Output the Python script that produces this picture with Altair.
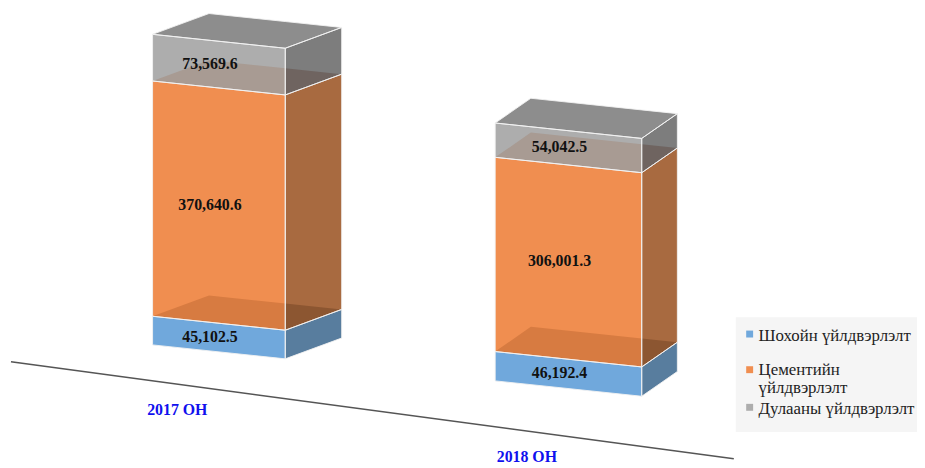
import altair as alt
import pandas as pd

# ---------------- data ----------------
categories = ["2017 ОН", "2018 ОН"]
series_names = ["Шохойн үйлдвэрлэлт", "Цементийн үйлдвэрлэлт", "Дулааны үйлдвэрлэлт"]
lime_values = [45102.5, 46192.4]
cement_values = [370640.6, 306001.3]
heat_values = [73569.6, 54042.5]

# ---------------- layout / style constants ----------------
PAGE = 8
W, H = 917, 452
K = 1560.0            # value units per pixel
SHEAR = 0.105         # perspective tilt of horizontal edges
BASE_PY0, BASE_X0 = 353, 220
bar_left = [153, 499]
bar_right = [287, 647]
bar_depth = [(57, -21), (36, -25)]
front_colors = ["#70a8dc", "#f08e50", "#adadad"]
side_colors = ["#587d9e", "#a86a40", "#7d7d7d"]
floor_front_colors = [None, "#d77b41", "#a89b93"]
floor_side_colors = [None, "#8c5631", "#6f6460"]
top_color = "#8d8d8d"
SERIF = "Liberation Serif"


def X(px):
    return px - PAGE


def Y(py):
    return (PAGE + H - py) * K


def lvl(px, v):
    return Y(BASE_PY0 + SHEAR * (px - BASE_X0)) + v


rows = {"front": [], "side": [], "floorF": [], "floorS": [], "top": []}


def add(kind, fid, color, pts):
    for (px, y, y2) in pts:
        rows[kind].append({"face": f"{kind}-{fid}", "color": color, "x": X(px), "y": y, "y2": y2})


labels = []
series_values = [lime_values, cement_values, heat_values]
for i in range(len(categories)):
    vals = [s[i] for s in series_values]
    cum = [0]
    for v in vals:
        cum.append(cum[-1] + v)
    xL, xR = bar_left[i], bar_right[i]
    ddx, ddy = bar_depth[i]
    D = -ddy * K
    xc = (xL + xR) / 2
    for j in range(3):
        lo, hi = cum[j], cum[j + 1]
        fid = f"{i}-{j}"
        add("front", fid, front_colors[j],
            [(xL, lvl(xL, lo), lvl(xL, hi)), (xR, lvl(xR, lo), lvl(xR, hi))])
        add("side", fid, side_colors[j],
            [(xR, lvl(xR, lo), lvl(xR, hi)), (xR + ddx, lvl(xR, lo) + D, lvl(xR, hi) + D)])
        if j > 0:
            add("floorF", fid, floor_front_colors[j],
                [(xL, lvl(xL, lo), lvl(xL, lo)),
                 (xL + ddx, lvl(xL + ddx, lo), lvl(xL, lo) + D),
                 (xR, lvl(xR, lo), lvl(xR - ddx, lo) + D)])
            add("floorS", fid, floor_side_colors[j],
                [(xR, lvl(xR, lo), lvl(xR - ddx, lo) + D),
                 (xR + ddx, lvl(xR, lo) + D, lvl(xR, lo) + D)])
        if j == 2:
            add("top", fid, top_color,
                [(xL, lvl(xL, hi), lvl(xL, hi)),
                 (xL + ddx, lvl(xL + ddx, hi), lvl(xL, hi) + D),
                 (xR, lvl(xR, hi), lvl(xR - ddx, hi) + D),
                 (xR + ddx, lvl(xR, hi) + D, lvl(xR, hi) + D)])
        lx = xc - 9
        labels.append({"x": X(lx), "y": lvl(lx, (lo + hi) / 2), "text": f"{vals[j]:,.1f}"})

xs = alt.Scale(domain=[0, W], nice=False, zero=False)
ys = alt.Scale(domain=[0, H * K], nice=False, zero=False)


def face_layer(df, **mark):
    return alt.Chart(df).mark_area(**mark).encode(
        x=alt.X("x:Q", scale=xs, axis=None),
        y=alt.Y("y:Q", scale=ys, axis=None, stack=None),
        y2="y2:Q",
        detail="face:N",
        color=alt.Color("color:N", scale=None),
    )


layers = [face_layer(pd.DataFrame(rows[k])) for k in ["front", "side", "floorF", "floorS", "top"]]

outline_df = pd.DataFrame(rows["front"] + rows["side"] + rows["top"])
layers.append(
    alt.Chart(outline_df).mark_area(fillOpacity=0, stroke="#f2f2f2", strokeWidth=1, strokeOpacity=0.9).encode(
        x=alt.X("x:Q", scale=xs, axis=None),
        y=alt.Y("y:Q", scale=ys, axis=None, stack=None),
        y2="y2:Q",
        detail="face:N",
    )
)

# floor line of the chart
line_df = pd.DataFrame({"x": [X(10), X(740)], "y": [Y(363), Y(461)]})
layers.append(
    alt.Chart(line_df).mark_line(color="#555555", strokeWidth=1.5).encode(
        x=alt.X("x:Q", scale=xs, axis=None),
        y=alt.Y("y:Q", scale=ys, axis=None),
    )
)

# value labels
layers.append(
    alt.Chart(pd.DataFrame(labels)).mark_text(
        font=SERIF, fontSize=16, fontWeight="bold", color="#111111", baseline="middle"
    ).encode(
        x=alt.X("x:Q", scale=xs, axis=None),
        y=alt.Y("y:Q", scale=ys, axis=None),
        text="text:N",
    )
)

# category labels under the floor line
cat_rows = []
for i, c in enumerate(categories):
    cx = (bar_left[i] + bar_right[i]) / 2 - 42
    cy = 363 + (461 - 363) / (740 - 10) * (cx - 10) + 26
    cat_rows.append({"x": X(cx), "y": Y(cy), "text": c})
layers.append(
    alt.Chart(pd.DataFrame(cat_rows)).mark_text(
        font=SERIF, fontSize=16, fontWeight="bold", color="#1010ee", baseline="middle"
    ).encode(
        x=alt.X("x:Q", scale=xs, axis=None),
        y=alt.Y("y:Q", scale=ys, axis=None),
        text="text:N",
    )
)

# legend (box, swatches, labels)
leg_box = pd.DataFrame({"x": [X(742)], "x2": [X(925)], "y": [Y(434)], "y2": [Y(318)]})
layers.append(
    alt.Chart(leg_box).mark_rect(color="#f5f5f5").encode(
        x=alt.X("x:Q", scale=xs, axis=None), x2="x2:Q",
        y=alt.Y("y:Q", scale=ys, axis=None), y2="y2:Q",
    )
)
sw_py = [335, 371, 409]
sw_df = pd.DataFrame({"x": [X(756)] * 3, "y": [Y(p) for p in sw_py], "color": front_colors})
layers.append(
    alt.Chart(sw_df).mark_square(size=49, opacity=1).encode(
        x=alt.X("x:Q", scale=xs, axis=None),
        y=alt.Y("y:Q", scale=ys, axis=None),
        color=alt.Color("color:N", scale=None),
    )
)
leg_lines = []
for name, py in zip(series_names, sw_py):
    words = name.split(" ")
    if name == series_names[1]:
        leg_lines.append({"x": X(765), "y": Y(py), "text": words[0]})
        leg_lines.append({"x": X(765), "y": Y(py + 19), "text": words[1]})
    else:
        leg_lines.append({"x": X(765), "y": Y(py + 2), "text": name})
layers.append(
    alt.Chart(pd.DataFrame(leg_lines)).mark_text(
        font=SERIF, fontSize=17, color="#222222", align="left", baseline="middle"
    ).encode(
        x=alt.X("x:Q", scale=xs, axis=None),
        y=alt.Y("y:Q", scale=ys, axis=None),
        text="text:N",
    )
)

chart = alt.layer(*layers).properties(
    width=W, height=H, padding=0, background="white"
).configure_view(stroke=None)

chart.save("out.html", embed_options={"renderer": "svg", "actions": False})
